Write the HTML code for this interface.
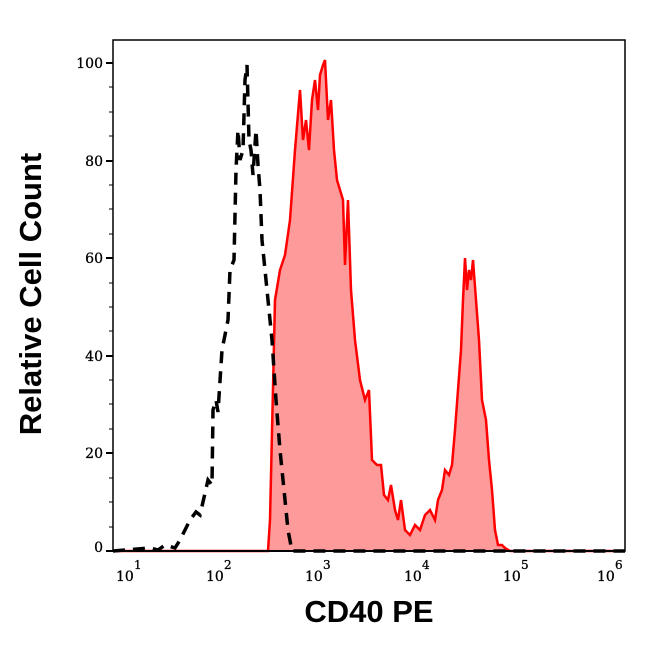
<!DOCTYPE html>
<html><head><style>
html,body{margin:0;padding:0;background:#fff;}
</style></head><body>
<svg width="646" height="641" viewBox="0 0 646 641" xmlns="http://www.w3.org/2000/svg">
<rect width="646" height="641" fill="#fff"/>
<polygon fill="#ff9a9a" stroke="none" points="113,551 268,551 270,520 275,300 280,270 285,255 290,220 295,150 300,90 303,140 306,120 309,150 312,100 315,80 318,110 320,75 323,65 325,60 328,120 331,100 334,150 337,180 340,190 343,200 345,265 348,200 351,290 355,340 360,380 365,400 369,390 372,460 377,465 381,465 384,495 388,500 391,485 395,510 398,520 401,500 405,530 410,535 415,525 420,530 425,515 430,510 435,520 438,500 442,490 445,470 449,475 452,465 455,430 458,390 461,350 463,300 465,258 467,290 469,270 471,280 473,260 476,300 479,340 482,400 486,420 489,460 492,490 495,530 498,545 502,545 505,548 510,551 625,551"/>
<polyline fill="none" stroke="#ff0000" stroke-width="2.5" points="113,551 268,551 270,520 275,300 280,270 285,255 290,220 295,150 300,90 303,140 306,120 309,150 312,100 315,80 318,110 320,75 323,65 325,60 328,120 331,100 334,150 337,180 340,190 343,200 345,265 348,200 351,290 355,340 360,380 365,400 369,390 372,460 377,465 381,465 384,495 388,500 391,485 395,510 398,520 401,500 405,530 410,535 415,525 420,530 425,515 430,510 435,520 438,500 442,490 445,470 449,475 452,465 455,430 458,390 461,350 463,300 465,258 467,290 469,270 471,280 473,260 476,300 479,340 482,400 486,420 489,460 492,490 495,530 498,545 502,545 505,548 510,551 625,551"/>
<polyline fill="none" stroke="#000" stroke-width="3.5" stroke-dasharray="12,8" points="113,551 150,548 158,550 165,545 175,548 180,540 190,520 196,512 200,515 208,480 212,485 213,410 216,400 218,412 222,350 226,330 228,320 230,270 234,260 236,170 238,130 240,160 243,150 245,80 247,65 249,140 251,150 253,175 256,130 258,165 260,190 262,240 265,270 268,300 272,340 276,400 280,450 284,490 288,530 292,551 625,551"/>
<rect x="113" y="40" width="512" height="511" fill="none" stroke="#000" stroke-width="1.5"/>
<line x1="113" y1="551" x2="625" y2="551" stroke="#000" stroke-width="2"/>
<g stroke="#000" stroke-width="2">
<line x1="106" y1="63" x2="113" y2="63"/><line x1="106" y1="161" x2="113" y2="161"/><line x1="106" y1="258" x2="113" y2="258"/><line x1="106" y1="356" x2="113" y2="356"/><line x1="106" y1="453" x2="113" y2="453"/><line x1="106" y1="551" x2="113" y2="551"/>
</g>
<g stroke="#000" stroke-width="1">
<line x1="109" y1="87" x2="113" y2="87"/><line x1="109" y1="112" x2="113" y2="112"/><line x1="109" y1="136" x2="113" y2="136"/>
<line x1="109" y1="185" x2="113" y2="185"/><line x1="109" y1="209" x2="113" y2="209"/><line x1="109" y1="234" x2="113" y2="234"/>
<line x1="109" y1="283" x2="113" y2="283"/><line x1="109" y1="307" x2="113" y2="307"/><line x1="109" y1="331" x2="113" y2="331"/>
<line x1="109" y1="380" x2="113" y2="380"/><line x1="109" y1="404" x2="113" y2="404"/><line x1="109" y1="429" x2="113" y2="429"/>
<line x1="109" y1="478" x2="113" y2="478"/><line x1="109" y1="502" x2="113" y2="502"/><line x1="109" y1="527" x2="113" y2="527"/>
</g>
<g id="xt" stroke="#000"></g>
<script>
var g=document.getElementById('xt'),s='';
for(var d=0;d<5;d++){var x0=113.3+d*98.8;
 s+='<line x1="'+x0+'" y1="551" x2="'+x0+'" y2="558" stroke-width="2"/>';
 for(var m=2;m<10;m++){var x=x0+Math.log10(m)*98.8;s+='<line x1="'+x+'" y1="551" x2="'+x+'" y2="555" stroke-width="1"/>';}}
s+='<line x1="607.3" y1="551" x2="607.3" y2="558" stroke-width="2"/>';
g.innerHTML=s;
</script>
<g font-family="DejaVu Serif, Liberation Serif, serif" font-size="14" fill="#000" text-anchor="end" stroke="#000" stroke-width="0.3">
<text x="103" y="68">100</text><text x="103" y="166">80</text><text x="103" y="263">60</text><text x="103" y="361">40</text><text x="103" y="458">20</text><text x="103" y="552">0</text>
</g>
<g font-family="DejaVu Serif, Liberation Serif, serif" font-size="14" fill="#000" stroke="#000" stroke-width="0.3">
<text x="116" y="581">10</text><text x="134" y="569" font-size="12">1</text>
<text x="206" y="581">10</text><text x="224" y="569" font-size="12">2</text>
<text x="305" y="581">10</text><text x="323" y="569" font-size="12">3</text>
<text x="404" y="581">10</text><text x="422" y="569" font-size="12">4</text>
<text x="503" y="581">10</text><text x="521" y="569" font-size="12">5</text>
<text x="597" y="581">10</text><text x="615" y="569" font-size="12">6</text>
</g>
<text x="369" y="622" text-anchor="middle" font-family="Liberation Sans, sans-serif" font-weight="bold" font-size="31">CD40 PE</text>
<text transform="translate(41,294) rotate(-90)" text-anchor="middle" font-family="Liberation Sans, sans-serif" font-weight="bold" font-size="31">Relative Cell Count</text>
</svg>
</body></html>
